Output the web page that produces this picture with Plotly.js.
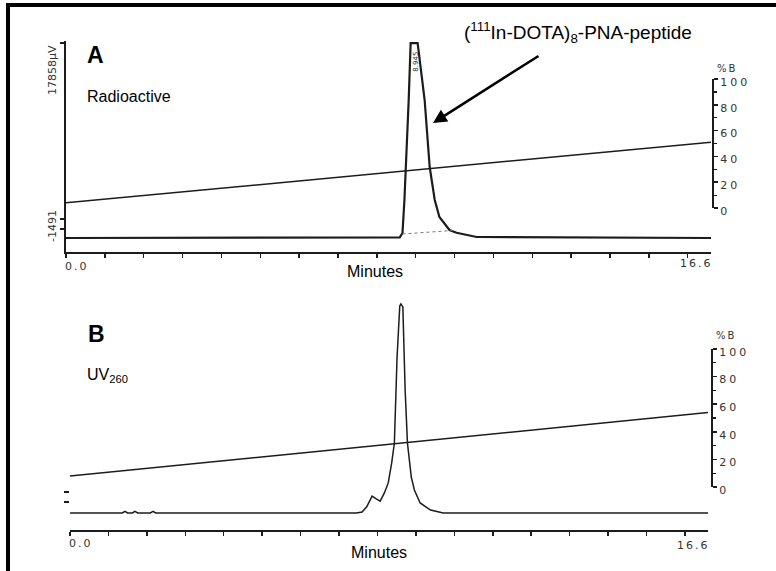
<!DOCTYPE html>
<html>
<head>
<meta charset="utf-8">
<script src="https://cdn.plot.ly/plotly-3.0.1.min.js"></script>
<style>
  html, body { margin: 0; padding: 0; background: #fff; }
  #chart { width: 776px; height: 571px; }
  .y2tick text, .y4tick text { letter-spacing: 3px; }
  g.annotation[data-index="0"] text, g.annotation[data-index="1"] text,
  g.annotation[data-index="2"] text, g.annotation[data-index="3"] text,
  g.annotation[data-index="4"] text, g.annotation[data-index="5"] text { letter-spacing: 2px; }
</style>
</head>
<body>
<div id="chart"></div>
<script>
// ---------- DATA ----------
// Panel A: radioactivity detector (µV) vs retention time (min)
const minutesA = [0, 8.45, 8.59, 8.66, 8.71, 8.82, 8.87, 9.05, 9.23, 9.36, 9.49, 9.61, 9.87, 10.05, 10.31, 10.57, 16.6];
const radioactiveUV = [0, 0, 60, 458, 3480, 12640, 17858, 17858, 12640, 6500, 3480, 1920, 730, 480, 275, 90, 0];
// Integration baseline under the radioactive peak
const integMinutes = [8.66, 9.95];
const integUV = [366, 690];
// Panel B: UV 260 nm absorbance (relative) vs retention time (min)
const minutesB = [0, 1.36, 1.43, 1.50, 1.62, 1.69, 1.76, 2.09, 2.16, 2.23, 7.45, 7.60, 7.72, 7.86, 7.97, 8.07, 8.18, 8.28, 8.37, 8.44, 8.51, 8.58, 8.61, 8.66, 8.72, 8.78, 8.88, 8.96, 9.11, 9.38, 9.71, 16.6];
const uv260 = [0, 0, 0.008, 0, 0, 0.008, 0, 0, 0.008, 0, 0, 0.005, 0.03, 0.081, 0.068, 0.057, 0.096, 0.144, 0.24, 0.335, 0.746, 0.99, 1.0, 0.986, 0.589, 0.335, 0.172, 0.110, 0.048, 0.014, 0, 0];
// Gradient (%B) lines
const gradMinutes = [0, 16.6];
const gradA = [4, 51];
const gradB = [8, 54];
// Tick positions and labels
const minuteTicks = [0, 1, 2, 3, 4, 5, 6, 7, 8, 9, 10, 11, 12, 13, 14, 15, 16];
const pctTicks = [0, 20, 40, 60, 80, 100];
const pctMinorTicks = [10, 30, 50, 70, 90];
const axisTimeLabels = ['0.0', '16.6'];
const yLabelsA = ['17858\u00b5V', '-1491'];

// ---------- LAYOUT HELPERS ----------
const W = 776, H = 571;
const px = v => v / W;
const py = v => 1 - v / H;
const ink = '#1c1c1c';
const tickFont = { family: 'DejaVu Sans', size: 11, color: '#333' };
const sans = 'Liberation Sans, Arial, sans-serif';

const traces = [
  { x: minutesA, y: radioactiveUV, xaxis: 'x', yaxis: 'y', mode: 'lines',
    line: { color: ink, width: 2.2 }, hoverinfo: 'skip' },
  { x: integMinutes, y: integUV, xaxis: 'x', yaxis: 'y', mode: 'lines',
    line: { color: '#777', width: 1, dash: 'dot' }, hoverinfo: 'skip' },
  { x: gradMinutes, y: gradA, xaxis: 'x', yaxis: 'y2', mode: 'lines',
    line: { color: ink, width: 1.5 }, hoverinfo: 'skip' },
  { x: minutesB, y: uv260, xaxis: 'x2', yaxis: 'y3', mode: 'lines',
    line: { color: ink, width: 1.5 }, hoverinfo: 'skip' },
  { x: gradMinutes, y: gradB, xaxis: 'x2', yaxis: 'y4', mode: 'lines',
    line: { color: ink, width: 1.5 }, hoverinfo: 'skip' }
];

const timeAxis = (dom, anchor) => ({
  domain: dom, anchor: anchor, range: [0, 16.6], showgrid: false, zeroline: false,
  showline: true, linecolor: ink, linewidth: 2, ticks: 'outside', ticklen: 4,
  tickwidth: 1.5, tickcolor: ink, tickvals: minuteTicks, showticklabels: false, fixedrange: true
});
const pctAxis = (dom, pos) => ({
  domain: dom, anchor: 'free', position: pos, side: 'right', range: [0, 100],
  showgrid: false, zeroline: false, showline: true, linecolor: ink, linewidth: 2,
  ticks: 'outside', ticklen: 4, tickwidth: 1.5, tickcolor: ink,
  tickvals: pctTicks, ticktext: pctTicks.map(String), tickfont: tickFont, ticklabelshift: 3,
  minor: { tickvals: pctMinorTicks, ticks: 'outside', ticklen: 3, tickwidth: 1.2, tickcolor: ink },
  fixedrange: true
});

const layout = {
  width: W, height: H,
  margin: { l: 0, r: 0, t: 0, b: 0 },
  paper_bgcolor: '#fff', plot_bgcolor: 'rgba(0,0,0,0)',
  showlegend: false,
  xaxis: timeAxis([px(66), px(711)], 'y'),
  yaxis: { domain: [py(251.5), py(41)], anchor: 'x', range: [-1237, 18045],
    showgrid: false, zeroline: false, showline: true, linecolor: ink, linewidth: 2,
    ticks: 'outside', ticklen: 4, tickwidth: 1.5, tickcolor: ink,
    tickvals: [824, 1740, 17858], showticklabels: false, fixedrange: true },
  yaxis2: pctAxis([py(208), py(79)], px(713)),
  xaxis2: timeAxis([px(70), px(708)], 'y3'),
  yaxis3: { domain: [py(530), py(300)], anchor: 'x2', range: [-0.0813, 1.019],
    showgrid: false, zeroline: false, showline: false,
    ticks: 'outside', ticklen: 5, tickwidth: 1.5, tickcolor: ink,
    tickvals: [0.053, 0.1], showticklabels: false, fixedrange: true },
  yaxis4: pctAxis([py(487), py(349)], px(712)),
  shapes: [
    { type: 'line', xref: 'paper', yref: 'paper', x0: px(6), x1: 1, y0: py(5), y1: py(5),
      line: { color: '#000', width: 4 } },
    { type: 'line', xref: 'paper', yref: 'paper', x0: px(8), x1: px(8), y0: py(3), y1: 0,
      line: { color: '#000', width: 4 } }
  ],
  annotations: [
    { text: axisTimeLabels[0], xref: 'x', x: 0, yref: 'paper', y: py(266), xanchor: 'left', yanchor: 'middle', showarrow: false, font: tickFont },
    { text: axisTimeLabels[1], xref: 'x', x: 16.6, yref: 'paper', y: py(263), xanchor: 'right', yanchor: 'middle', showarrow: false, font: tickFont },
    { text: axisTimeLabels[0], xref: 'x2', x: 0, yref: 'paper', y: py(543), xanchor: 'left', yanchor: 'middle', showarrow: false, font: tickFont },
    { text: axisTimeLabels[1], xref: 'x2', x: 16.6, yref: 'paper', y: py(545), xanchor: 'right', yanchor: 'middle', showarrow: false, font: tickFont },
    { text: '%B', xref: 'paper', x: px(717), yref: 'paper', y: py(68), xanchor: 'left', yanchor: 'middle', showarrow: false, font: { family: 'DejaVu Sans', size: 10, color: '#333' } },
    { text: '%B', xref: 'paper', x: px(716), yref: 'paper', y: py(335), xanchor: 'left', yanchor: 'middle', showarrow: false, font: { family: 'DejaVu Sans', size: 10, color: '#333' } },
    { text: yLabelsA[0], xref: 'paper', x: px(52), yref: 'paper', y: py(43), xanchor: 'center', yanchor: 'top', textangle: -90, showarrow: false, font: { family: 'DejaVu Sans', size: 11, color: '#333' } },
    { text: yLabelsA[1], xref: 'paper', x: px(52), yref: 'paper', y: py(244), xanchor: 'center', yanchor: 'bottom', textangle: -90, showarrow: false, font: { family: 'DejaVu Sans', size: 11, color: '#333' } },
    { text: '<b>A</b>', xref: 'paper', x: px(85), yref: 'paper', y: py(55), xanchor: 'left', yanchor: 'middle', showarrow: false, font: { family: sans, size: 23, color: '#000' } },
    { text: 'Radioactive', xref: 'paper', x: px(85), yref: 'paper', y: py(96), xanchor: 'left', yanchor: 'middle', showarrow: false, font: { family: sans, size: 16, color: '#000' } },
    { text: '<b>B</b>', xref: 'paper', x: px(86), yref: 'paper', y: py(334), xanchor: 'left', yanchor: 'middle', showarrow: false, font: { family: sans, size: 23, color: '#000' } },
    { text: 'UV<sub>260</sub>', xref: 'paper', x: px(85), yref: 'paper', y: py(375), xanchor: 'left', yanchor: 'middle', showarrow: false, font: { family: sans, size: 16, color: '#000' } },
    { text: 'Minutes', xref: 'paper', x: px(375), yref: 'paper', y: py(271), xanchor: 'center', yanchor: 'middle', showarrow: false, font: { family: sans, size: 16, color: '#000' } },
    { text: 'Minutes', xref: 'paper', x: px(379), yref: 'paper', y: py(552), xanchor: 'center', yanchor: 'middle', showarrow: false, font: { family: sans, size: 16, color: '#000' } },
    { text: '(<sup>111</sup>In-DOTA)<sub>8</sub>-PNA-peptide', xref: 'paper', x: px(578), yref: 'paper', y: py(32), xanchor: 'center', yanchor: 'middle', showarrow: false, font: { family: sans, size: 19, color: '#000' } },
    { text: '', xref: 'paper', x: px(433), yref: 'paper', y: py(123), ax: 107, ay: -68, showarrow: true, arrowhead: 2, arrowsize: 1.1, arrowwidth: 2.5, arrowcolor: '#000', standoff: 0 },
    { text: '8.945', xref: 'x', x: 9.0, yref: 'paper', y: py(62), xanchor: 'center', yanchor: 'middle', textangle: -90, showarrow: false, font: { family: 'DejaVu Sans', size: 7, color: '#333' } }
  ]
};

Plotly.newPlot('chart', traces, layout, { staticPlot: true, displayModeBar: false });
</script>
</body>
</html>
